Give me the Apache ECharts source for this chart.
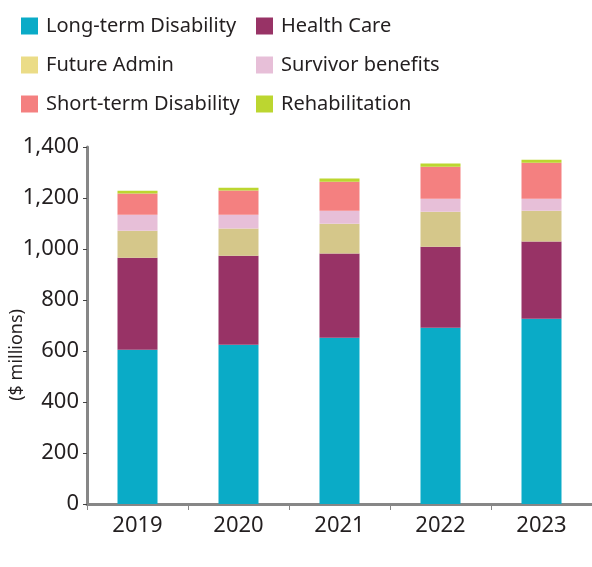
<!DOCTYPE html>
<html>
<head>
<meta charset="utf-8">
<script src="https://cdn.jsdelivr.net/npm/echarts@6/dist/echarts.min.js"></script>
<style>
  html, body { margin: 0; padding: 0; background: #fff; }
  #chart { width: 592px; height: 567px; }
</style>
</head>
<body>
<div id="chart"></div>
<script>
// Annual benefit costs by category ($ millions)
const years = ['2019', '2020', '2021', '2022', '2023'];
const longTermDisability = [605, 625, 652, 691, 726];
const healthCare = [361, 349, 330, 318, 303];
const futureAdmin = [106, 106, 117, 137, 121];
const survivorBenefits = [62, 54, 51, 51, 47];
const shortTermDisability = [84, 95, 114, 126, 141];
const rehabilitation = [10, 11, 12, 12, 12];
const yTicks = [0, 200, 400, 600, 800, 1000, 1200, 1400];

const FONT = '"Noto Sans", "Open Sans", sans-serif';
const TEXT = '#231f20';

const seriesDefs = [
  { name: 'Long-term Disability', data: longTermDisability, color: '#0aabc7' },
  { name: 'Health Care', data: healthCare, color: '#983366' },
  { name: 'Future Admin', data: futureAdmin, color: '#d5c78a', legendColor: '#ebdc87' },
  { name: 'Survivor benefits', data: survivorBenefits, color: '#e7bfd8' },
  { name: 'Short-term Disability', data: shortTermDisability, color: '#f48080' },
  { name: 'Rehabilitation', data: rehabilitation, color: '#bcd630' }
];

function legendItem(name) {
  const d = seriesDefs.find(s => s.name === name);
  return { name: name, itemStyle: { color: d.legendColor || d.color } };
}

const legendCommon = {
  orient: 'vertical',
  top: 15,
  padding: 0,
  icon: 'rect',
  itemWidth: 17,
  itemHeight: 17,
  itemGap: 17,
  selectedMode: false,
  textStyle: { fontFamily: FONT, fontSize: 20, color: TEXT, lineHeight: 22, padding: [0, 0, 0, 3] }
};

const chart = echarts.init(document.getElementById('chart'), null, { renderer: 'canvas' });
chart.setOption({
  animation: false,
  backgroundColor: '#fff',
  legend: [
    Object.assign({}, legendCommon, {
      left: 21,
      data: ['Long-term Disability', 'Future Admin', 'Short-term Disability'].map(legendItem)
    }),
    Object.assign({}, legendCommon, {
      left: 256,
      data: ['Health Care', 'Survivor benefits', 'Rehabilitation'].map(legendItem)
    })
  ],
  graphic: [{
    type: 'text',
    left: 8,
    top: 309,
    rotation: Math.PI / 2,
    style: {
      text: '($ millions)',
      fontFamily: FONT,
      fontSize: 18,
      fill: TEXT
    }
  }],
  grid: { left: 87, top: 147, width: 509, height: 357, containLabel: false },
  xAxis: {
    type: 'category',
    data: years,
    axisLine: { lineStyle: { color: '#878787', width: 3 } },
    axisTick: { show: true, length: 6, alignWithLabel: false, lineStyle: { color: '#878787', width: 1 } },
    axisLabel: { fontFamily: FONT, fontSize: 22, color: TEXT, margin: 11 }
  },
  yAxis: {
    type: 'value',
    min: yTicks[0],
    max: yTicks[yTicks.length - 1],
    interval: yTicks[1] - yTicks[0],
    splitLine: { show: false },
    axisLine: { show: true, lineStyle: { color: '#878787', width: 3 } },
    axisTick: { show: true, length: 4, lineStyle: { color: '#444', width: 1 } },
    axisLabel: {
      fontFamily: FONT, fontSize: 22, color: TEXT, margin: 8,
      formatter: v => v.toLocaleString('en-US')
    }
  },
  series: seriesDefs.map(s => ({
    name: s.name,
    type: 'bar',
    stack: 'total',
    barWidth: 40,
    data: s.data,
    itemStyle: { color: s.color }
  }))
});
</script>
</body>
</html>
